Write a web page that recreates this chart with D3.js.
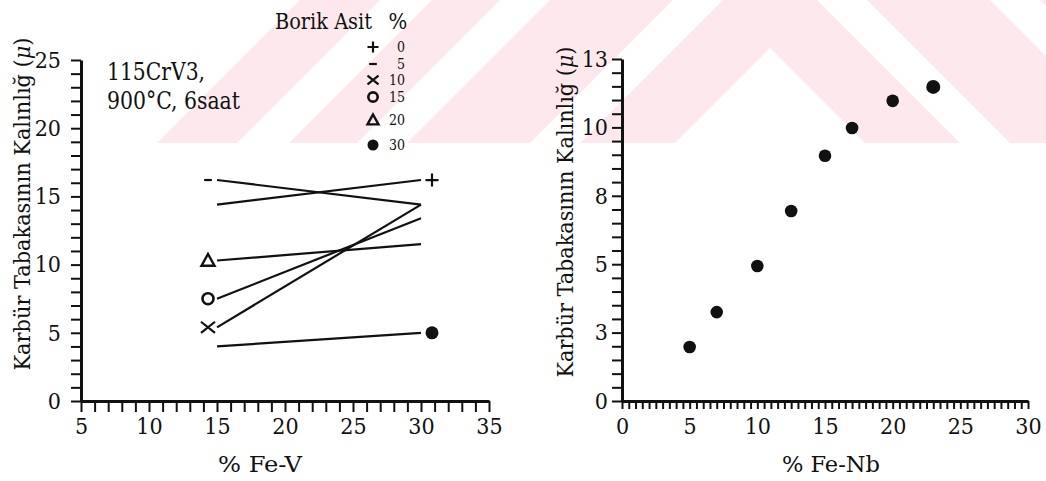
<!DOCTYPE html>
<html>
<head>
<meta charset="utf-8">
<script src="https://cdn.jsdelivr.net/npm/d3@7"></script>
<style>
  html, body { margin: 0; padding: 0; background: #fff; }
  svg { display: block; }
  svg text { fill: #111; }
</style>
</head>
<body>
<svg id="chart" width="1046" height="481" font-family="DejaVu Serif Condensed, DejaVu Serif, serif"></svg>
<script>
// ---- Left panel: carbide layer thickness vs. % Fe-V, one line per boric acid level ----
const feVPercent = [15, 30];
const boricAcidLevels = [0, 5, 10, 15, 20, 30];
const layer0  = [14.4, 16.2];
const layer5  = [16.2, 14.4];
const layer10 = [5.4, 14.4];
const layer15 = [7.5, 13.4];
const layer20 = [10.3, 11.5];
const layer30 = [4.0, 5.0];
const feVTickLabels = [5, 10, 15, 20, 25, 30, 35];
const feVYTickLabels = [0, 5, 10, 15, 20, 25];

// ---- Right panel: carbide layer thickness vs. % Fe-Nb ----
const feNbPercent = [5, 7, 10, 12.5, 15, 17, 20, 23];
const feNbThickness = [2.05, 3.38, 5.13, 7.22, 9.32, 10.38, 11.41, 11.94];
const feNbTickLabels = [0, 5, 10, 15, 20, 25, 30];
const feNbYTickLabels = ["0", "3", "5", "8", "10", "13"];

const yTitle = "Karbür Tabakasının Kalınlığ (";
const FONT = "DejaVu Serif Condensed, DejaVu Serif, serif";
const svg = d3.select("#chart");

// faint background emblem (nested chevrons), cut off along a horizontal edge
svg.append("defs").append("clipPath").attr("id", "emblemClip")
  .append("rect").attr("x", 0).attr("y", 0).attr("width", 1046).attr("height", 143);
const emblem = svg.append("g").attr("clip-path", "url(#emblemClip)");
const chevrons = [
  {so: 300, si: 380, dout: 1240, din: 1160},
  {so: 432, si: 500, dout: 1108, din: 1040},
  {so: 550, si: 673, dout: 990,  din: 867},
  {so: 723, si: 818, dout: 817,  din: 722}
];
const tri = (s, d, yb) => {
  const p = d3.path();
  p.moveTo((s + d) / 2, (s - d) / 2);
  p.lineTo(d + yb, yb);
  p.lineTo(s - yb, yb);
  p.closePath();
  return p.toString();
};
emblem.selectAll("path").data(chevrons).join("path")
  .attr("d", c => tri(c.so, c.dout, 160) + tri(c.si, c.din, 160))
  .attr("fill-rule", "evenodd")
  .attr("fill", "#fde9ed");

// ================= Left panel =================
const xL = d3.scaleLinear().domain([5, 35]).range([81, 489]);
const yL = d3.scaleLinear().domain([0, 25]).range([401, 60]);

const gL = svg.append("g");

const axisYL = d3.axisLeft(yL)
  .tickValues(d3.range(0, 26))
  .tickSize(10).tickSizeOuter(0).tickPadding(10)
  .tickFormat(d => feVYTickLabels.includes(d) ? d : "");
const axisXL = d3.axisBottom(xL)
  .tickValues(d3.range(5, 36))
  .tickSize(11).tickSizeOuter(0).tickPadding(6)
  .tickFormat(d => feVTickLabels.includes(d) ? d : "");

function styleAxis(g) {
  g.attr("font-family", FONT);
  g.select(".domain").attr("stroke", "#111").attr("stroke-width", 3);
  g.selectAll(".tick line").attr("stroke", "#111").attr("stroke-width", 2);
  g.selectAll(".tick text").attr("font-size", 23).attr("fill", "#111");
}

gL.append("g").attr("transform", "translate(81,0)").call(axisYL).call(styleAxis);
gL.append("g").attr("transform", "translate(0,401)").call(axisXL).call(styleAxis);

// series lines
const leftSeries = [
  {level: 0,  vals: layer0,  side: "right", mark: "plus"},
  {level: 5,  vals: layer5,  side: "left",  mark: "dash"},
  {level: 10, vals: layer10, side: "left",  mark: "cross"},
  {level: 15, vals: layer15, side: "left",  mark: "circle"},
  {level: 20, vals: layer20, side: "left",  mark: "triangle"},
  {level: 30, vals: layer30, side: "right", mark: "dot"}
];
const lineL = d3.line().x((d, i) => xL(feVPercent[i])).y(d => yL(d));
gL.selectAll("path.series").data(leftSeries).join("path")
  .attr("class", "series")
  .attr("d", s => lineL(s.vals))
  .attr("fill", "none").attr("stroke", "#111").attr("stroke-width", 2.2);

function drawMark(g, type, x, y, size) {
  const h = size / 2;
  if (type === "plus") {
    g.append("path").attr("d", `M${x - h},${y}H${x + h}M${x},${y - h}V${y + h}`)
      .attr("stroke", "#111").attr("stroke-width", 2.2).attr("fill", "none");
  } else if (type === "dash") {
    g.append("path").attr("d", `M${x - h * 0.7},${y}H${x + h * 0.7}`)
      .attr("stroke", "#111").attr("stroke-width", 2.2).attr("fill", "none");
  } else if (type === "cross") {
    g.append("path").attr("d", `M${x - h},${y - h * 0.8}L${x + h},${y + h * 0.8}M${x - h},${y + h * 0.8}L${x + h},${y - h * 0.8}`)
      .attr("stroke", "#111").attr("stroke-width", 2.2).attr("fill", "none");
  } else if (type === "circle") {
    g.append("circle").attr("cx", x).attr("cy", y).attr("r", h * 0.85)
      .attr("stroke", "#111").attr("stroke-width", 2.6).attr("fill", "none");
  } else if (type === "triangle") {
    g.append("path").attr("d", `M${x},${y - h}L${x + h},${y + h * 0.8}L${x - h},${y + h * 0.8}Z`)
      .attr("stroke", "#111").attr("stroke-width", 2.4).attr("fill", "none");
  } else if (type === "dot") {
    g.append("circle").attr("cx", x).attr("cy", y).attr("r", h)
      .attr("fill", "#111");
  }
}

// end-of-line markers identifying each boric acid level
leftSeries.forEach(s => {
  const atRight = s.side === "right";
  const i = atRight ? 1 : 0;
  const x = xL(feVPercent[i]) + (atRight ? 11 : -9);
  const size = s.mark === "dash" ? 11 : (s.mark === "cross" ? 14 : 13);
  drawMark(gL, s.mark, x, yL(s.vals[i]), size);
});

// condition note
gL.append("text").attr("x", 107).attr("y", 80).attr("font-size", 24)
  .attr("textLength", 98).attr("lengthAdjust", "spacingAndGlyphs").text("115CrV3,");
gL.append("text").attr("x", 107).attr("y", 109).attr("font-size", 24)
  .attr("textLength", 133).attr("lengthAdjust", "spacingAndGlyphs").text("900°C, 6saat");

// legend
const legend = gL.append("g");
legend.append("text").attr("x", 275).attr("y", 29).attr("font-size", 22)
  .attr("textLength", 97).attr("lengthAdjust", "spacingAndGlyphs").text("Borik Asit");
legend.append("text").attr("x", 398).attr("y", 29).attr("font-size", 22)
  .attr("text-anchor", "middle").text("%");
const legendRowY = {0: 47, 5: 64, 10: 80, 15: 97, 20: 120, 30: 145};
leftSeries.forEach(s => {
  const y = legendRowY[s.level];
  drawMark(legend, s.mark, 373, y, 11);
  legend.append("text").attr("x", 405).attr("y", y + 5).attr("font-size", 14)
    .attr("text-anchor", "end").text(s.level);
});

// axis titles
function yAxisTitle(g, x, y, len) {
  g.append("text").attr("transform", `translate(${x},${y}) rotate(-90)`)
    .attr("text-anchor", "middle").attr("font-size", 22)
    .attr("textLength", len).attr("lengthAdjust", "spacingAndGlyphs")
    .call(t => {
      t.append("tspan").text(yTitle);
      t.append("tspan").attr("font-style", "italic").text("μ");
      t.append("tspan").text(")");
    });
}
yAxisTitle(gL, 30, 204, 333);
gL.append("text").attr("x", 260).attr("y", 472).attr("text-anchor", "middle")
  .attr("font-size", 22).attr("textLength", 84).attr("lengthAdjust", "spacingAndGlyphs")
  .text("% Fe-V");

// ================= Right panel =================
const xR = d3.scaleLinear().domain([0, 30]).range([622, 1028]);
const yR = d3.scaleLinear().domain([0, 13]).range([401, 59]);
const gR = svg.append("g");

const yStepR = 13 / 25;
const axisYR = d3.axisLeft(yR)
  .tickValues(d3.range(0, 26).map(i => i * yStepR))
  .tickSize(10).tickSizeOuter(0).tickPadding(4)
  .tickFormat((d, i) => i % 5 === 0 ? feNbYTickLabels[i / 5] : "");
const axisXR = d3.axisBottom(xR)
  .tickValues(d3.range(0, 61).map(i => i * 0.5))
  .tickSize(8).tickSizeOuter(0).tickPadding(9)
  .tickFormat(d => feNbTickLabels.includes(d) ? d : "");

gR.append("g").attr("transform", "translate(622,0)").call(axisYR).call(styleAxis);
gR.append("g").attr("transform", "translate(0,401)").call(axisXR).call(styleAxis);

gR.selectAll("circle.pt").data(feNbPercent).join("circle")
  .attr("class", "pt")
  .attr("cx", d => xR(d))
  .attr("cy", (d, i) => yR(feNbThickness[i]))
  .attr("r", (d, i) => i === feNbPercent.length - 1 ? 7 : 6.3)
  .attr("fill", "#111");

yAxisTitle(gR, 573, 212, 331);
gR.append("text").attr("x", 831).attr("y", 472).attr("text-anchor", "middle")
  .attr("font-size", 22).attr("textLength", 98).attr("lengthAdjust", "spacingAndGlyphs")
  .text("% Fe-Nb");
</script>
</body>
</html>
